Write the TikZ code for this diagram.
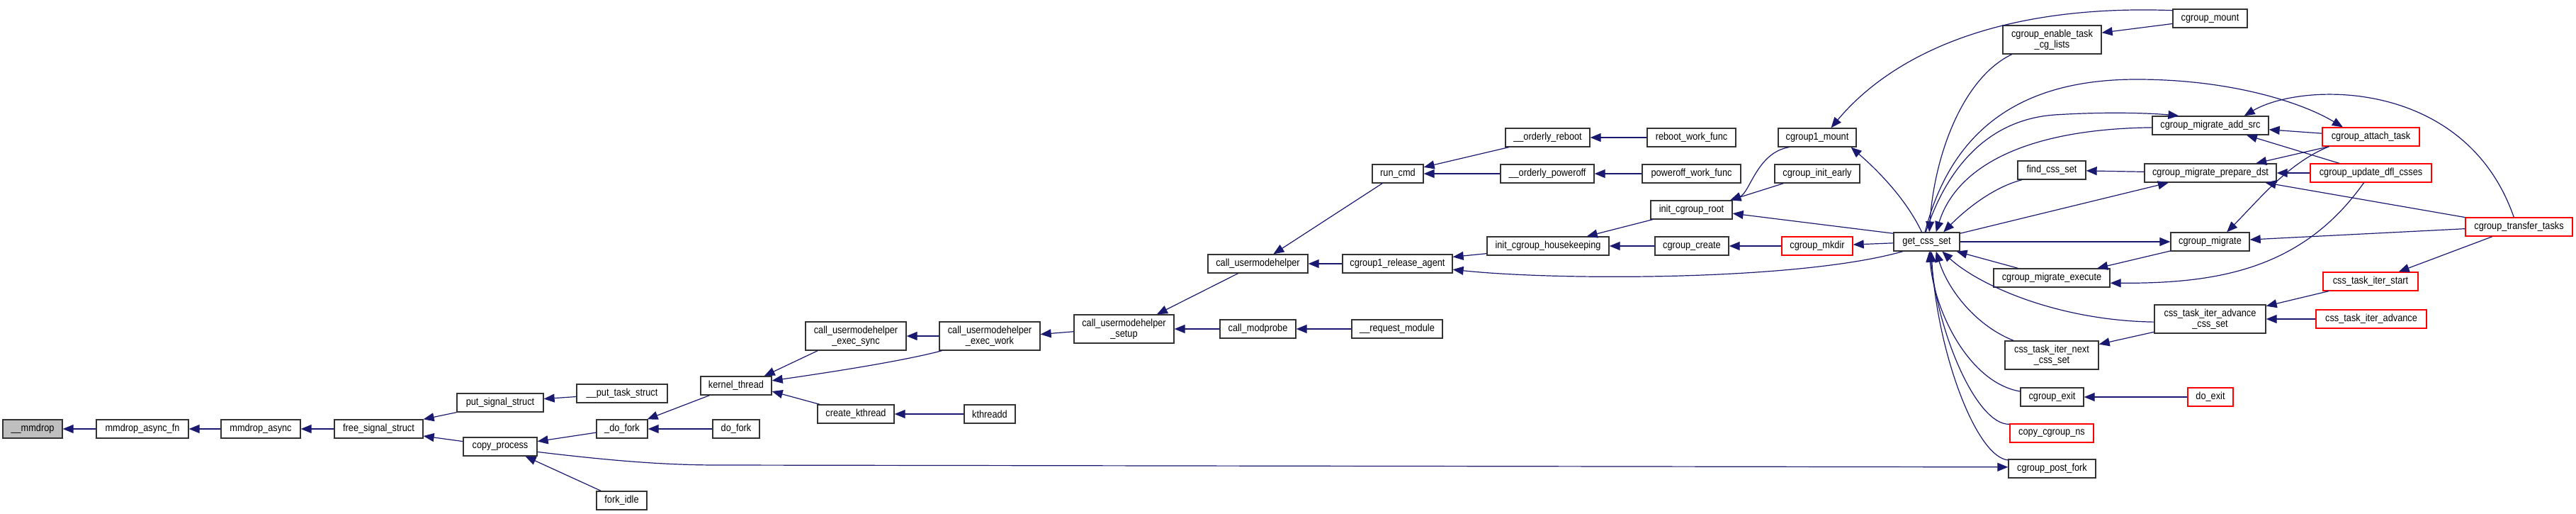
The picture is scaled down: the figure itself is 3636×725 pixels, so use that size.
\documentclass[tikz,border=0pt]{standalone}
\usepackage{fontspec}
\newfontfamily\graphfont{Liberation Sans}[FakeStretch=0.88]
\usetikzlibrary{arrows.meta}
\definecolor{edgeblue}{HTML}{191970}
\definecolor{boxred}{HTML}{FF0000}
\definecolor{rootgray}{HTML}{BFBFBF}
\tikzset{
  fn/.style={draw=black!80, fill=white, line width=1.3pt, inner sep=0pt, align=center,
    font={\graphfont\fontsize{14.5pt}{15pt}\selectfont}},
  fnred/.style={fn, draw=boxred},
  fnroot/.style={fn, fill=rootgray},
  sz/.style 2 args={minimum width=#1, minimum height=#2},
  call/.style={draw=edgeblue, line width=1.2pt, arrows={Triangle[length=15pt,width=12pt]-}},
}
\begin{document}
\begin{tikzpicture}[x=1pt,y=-1pt]
\useasboundingbox (0,0) rectangle (3636,725);
% functions
\node[fnroot, sz={84}{26}] (mmdrop) at (46,605) {\_\_mmdrop};
\node[fn, sz={130}{26}] (mmdropfn) at (201,605) {mmdrop\_async\_fn};
\node[fn, sz={112}{26}] (mmdropasync) at (368,605) {mmdrop\_async};
\node[fn, sz={125}{26}] (freesig) at (534.5,605) {free\_signal\_struct};
\node[fn, sz={122}{26}] (putsig) at (706,568) {put\_signal\_struct};
\node[fn, sz={104}{26}] (copyproc) at (706,630) {copy\_process};
\node[fn, sz={128}{26}] (puttask) at (878,555) {\_\_put\_task\_struct};
\node[fn, sz={72}{26}] (udofork) at (878,605) {\_do\_fork};
\node[fn, sz={71}{26}] (forkidle) at (877.5,706) {fork\_idle};
\node[fn, sz={100}{26}] (kthread) at (1039,544) {kernel\_thread};
\node[fn, sz={66}{26}] (dofork) at (1039,605) {do\_fork};
\node[fn, sz={142}{40}] (umhsync) at (1208,474) {call\_usermodehelper\\\_exec\_sync};
\node[fn, sz={108}{26}] (createkt) at (1208,584) {create\_kthread};
\node[fn, sz={142}{40}] (umhwork) at (1397,474) {call\_usermodehelper\\\_exec\_work};
\node[fn, sz={72}{26}] (kthreadd) at (1397,584) {kthreadd};
\node[fn, sz={141}{40}] (umhsetup) at (1586.5,464) {call\_usermodehelper\\\_setup};
\node[fn, sz={141}{26}] (umh) at (1775.5,372) {call\_usermodehelper};
\node[fn, sz={107}{26}] (modprobe) at (1775.5,464) {call\_modprobe};
\node[fn, sz={72}{26}] (runcmd) at (1973,245) {run\_cmd};
\node[fn, sz={155}{26}] (release) at (1972.5,372) {cgroup1\_release\_agent};
\node[fn, sz={128}{26}] (requestmod) at (1972,464) {\_\_request\_module};
\node[fn, sz={119}{26}] (oreboot) at (2184.5,194) {\_\_orderly\_reboot};
\node[fn, sz={132}{26}] (opoweroff) at (2184,245) {\_\_orderly\_poweroff};
\node[fn, sz={172}{26}] (housekeep) at (2185,347) {init\_cgroup\_housekeeping};
\node[fn, sz={125}{26}] (rebootwf) at (2387.5,194) {reboot\_work\_func};
\node[fn, sz={139}{26}] (poweroffwf) at (2387.5,245) {poweroff\_work\_func};
\node[fn, sz={115}{26}] (initroot) at (2387.5,296) {init\_cgroup\_root};
\node[fn, sz={104}{26}] (cgcreate) at (2388,347) {cgroup\_create};
\node[fn, sz={110}{26}] (cgonemount) at (2565,194) {cgroup1\_mount};
\node[fn, sz={120}{26}] (initearly) at (2565,245) {cgroup\_init\_early};
\node[fnred, sz={100}{26}] (mkdir) at (2565,347) {cgroup\_mkdir};
\node[fn, sz={93}{26}] (getcss) at (2719.5,341) {get\_css\_set};
\node[fn, sz={139}{40}] (enable) at (2896.5,56) {cgroup\_enable\_task\\\_cg\_lists};
\node[fn, sz={96}{26}] (findcss) at (2896,240) {find\_css\_set};
\node[fn, sz={164}{26}] (execute) at (2896,392) {cgroup\_migrate\_execute};
\node[fn, sz={132}{40}] (nextcss) at (2896,501) {css\_task\_iter\_next\\\_css\_set};
\node[fn, sz={89}{26}] (cgexit) at (2896.5,560) {cgroup\_exit};
\node[fnred, sz={118}{26}] (copyns) at (2896,611) {copy\_cgroup\_ns};
\node[fn, sz={123}{26}] (postfork) at (2896.5,661) {cgroup\_post\_fork};
\node[fn, sz={105}{26}] (cgmount) at (3119.5,26) {cgroup\_mount};
\node[fn, sz={164}{26}] (addsrc) at (3120,177) {cgroup\_migrate\_add\_src};
\node[fn, sz={186}{26}] (preparedst) at (3120,244) {cgroup\_migrate\_prepare\_dst};
\node[fn, sz={111}{26}] (migrate) at (3119.5,341) {cgroup\_migrate};
\node[fn, sz={157}{40}] (advcss) at (3119.5,450) {css\_task\_iter\_advance\\\_css\_set};
\node[fnred, sz={64}{26}] (doexit) at (3120,560) {do\_exit};
\node[fnred, sz={137}{26}] (attach) at (3346.5,193) {cgroup\_attach\_task};
\node[fnred, sz={171}{26}] (updatedfl) at (3346.5,244) {cgroup\_update\_dfl\_csses};
\node[fnred, sz={134}{26}] (iterstart) at (3346,397) {css\_task\_iter\_start};
\node[fnred, sz={156}{26}] (iteradv) at (3347,450) {css\_task\_iter\_advance};
\node[fnred, sz={151}{26}] (transfer) at (3555.5,320) {cgroup\_transfer\_tasks};
% callers, left part
\draw[call] (mmdrop) -- (mmdropfn);
\draw[call] (mmdropfn) -- (mmdropasync);
\draw[call] (mmdropasync) -- (freesig);
\draw[call] (freesig.north east) -- (putsig.south west);
\draw[call] (freesig.351) -- (copyproc.172);
\draw[call] (putsig.5) -- (puttask.184);
\draw[call] (copyproc.8) -- (udofork.188);
\draw[call] (copyproc.339) -- (forkidle.155);
\draw[call] (postfork.178) -- (1014,656) .. controls (950,656) and (880,652) .. (copyproc.352);
\draw[call] (udofork.21) -- (kthread.200);
\draw[call] (udofork) -- (dofork);
\draw[call] (kthread.19) -- (umhsync.201);
\draw[call] (kthread.8) .. controls (1180,524) and (1280,508) .. (umhwork.197);
\draw[call] (kthread.351) -- (createkt.165);
\draw[call] (createkt) -- (kthreadd);
\draw[call] (umhsync) -- (umhwork);
\draw[call] (umhwork.2) -- (umhsetup.183);
\draw[call] (umhsetup.24) -- (umh.206);
\draw[call] (umhsetup) -- (modprobe);
\draw[call] (modprobe) -- (requestmod);
\draw[call] (umh.32) -- (runcmd.212);
\draw[call] (umh) -- (release);
\draw[call] (runcmd.14) -- (oreboot.194);
\draw[call] (runcmd) -- (opoweroff);
\draw[call] (oreboot) -- (rebootwf);
\draw[call] (opoweroff) -- (poweroffwf);
\draw[call] (release.7) -- (housekeep.187);
\draw[call] (release.354) .. controls (2200,396) and (2540,396) .. (getcss.202);
\draw[call] (housekeep.14) -- (initroot.194);
\draw[call] (housekeep) -- (cgcreate);
\draw[call] (cgcreate) -- (mkdir);
\draw[call] (mkdir) -- (getcss);
\draw[call] (initroot.355) -- (getcss.166);
\draw[call] (initroot.14) .. controls (2470,272) and (2480,215) .. (cgonemount.199);
\draw[call] (initroot.14) -- (initearly.196);
\draw[call] (cgonemount.344) .. controls (2650,240) and (2690,280) .. (getcss.117);
\draw[call] (cgonemount.35) .. controls (2660,90) and (2800,5) .. (cgmount.168);
% callers round get_css_set
\draw[call] (enable.8) -- (cgmount.188);
\draw[call] (getcss.75) .. controls (2730,220) and (2770,110) .. (enable.200);
\draw[call] (attach.161) .. controls (3250,145) and (3150,112) .. (3016,112)
  .. controls (2880,112) and (2760,160) .. (getcss.100);
\draw[call] (addsrc.163) .. controls (3040,160) and (2980,157) .. (2900,162)
  .. controls (2790,170) and (2740,260) .. (getcss.95);
\draw[call] (getcss.46) .. controls (2760,240) and (2850,182) .. (addsrc.182);
\draw[call] (getcss.30) .. controls (2770,300) and (2810,265) .. (findcss.198);
\draw[call] (findcss) -- (preparedst);
\draw[call] (preparedst.193) -- (getcss.14);
\draw[call] (migrate) -- (getcss);
\draw[call] (getcss.342) -- (execute.164);
\draw[call] (execute.12) -- (migrate.193);
\draw[call] (execute.355) .. controls (3130,400) and (3250,380) .. (updatedfl.234);
\draw[call] (migrate.30) .. controls (3190,280) and (3230,230) .. (attach.193);
\draw[call] (preparedst.12) -- (attach.193);
\draw[call] (addsrc.356) -- (attach.176);
\draw[call] (addsrc.345) -- (updatedfl.163);
\draw[call] (preparedst) -- (updatedfl);
\draw[call] (preparedst.350) -- (transfer.170);
\draw[call] (migrate.3) -- (transfer.182);
\draw[call] (addsrc.16) .. controls (3250,115) and (3480,110) .. (transfer.118);
\draw[call] (iterstart.19) -- (transfer.200);
\draw[call] (advcss.13) -- (iterstart.193);
\draw[call] (advcss) -- (iteradv);
\draw[call] (nextcss.13) -- (advcss.193);
\draw[call] (getcss.328) .. controls (2790,400) and (2900,452) .. (advcss.183);
\draw[call] (getcss.314) .. controls (2750,410) and (2790,460) .. (nextcss.159);
\draw[call] (getcss.285) .. controls (2730,440) and (2780,540) .. (cgexit.170);
\draw[call] (cgexit) -- (doexit);
\draw[call] (getcss.290) .. controls (2735,470) and (2790,600) .. (copyns.168);
\draw[call] (getcss.295) .. controls (2735,500) and (2790,645) .. (postfork.169);
\end{tikzpicture}
\end{document}
